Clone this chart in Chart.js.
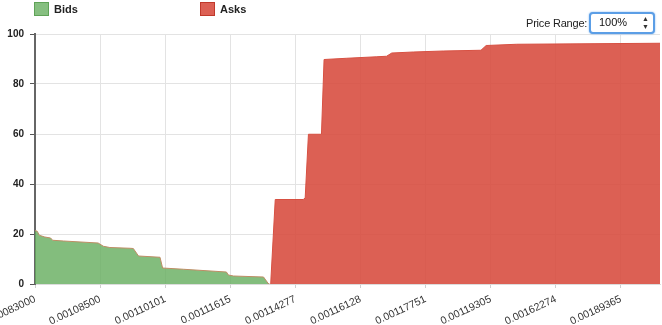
<!DOCTYPE html>
<html>
<head>
<meta charset="utf-8">
<script src="https://cdn.jsdelivr.net/npm/chart.js@4.4.1/dist/chart.umd.min.js"></script>
<style>
  body { margin: 0; background: #fff; font-family: "Liberation Sans", Arial, sans-serif; }
  #wrap { position: relative; width: 662px; height: 325px; overflow: hidden; }
  #chartBox { position: absolute; left: 0; top: 0; width: 662px; height: 325px; }
  .legend { position: absolute; top: 2px; font-size: 11px; font-weight: bold; color: #222; line-height: 14px; }
  .legend .box { display: inline-block; width: 13px; height: 12px; vertical-align: top; margin-right: 5px; }
  #bidsLeg { left: 34px; }
  #asksLeg { left: 200px; }
  #bidsLeg .box { background: #86bf80; border: 1px solid #5fa257; }
  #asksLeg .box { background: #dc6054; border: 1px solid #c0392b; }
  #range { position: absolute; top: 17px; left: 526px; font-size: 11px; color: #222; letter-spacing: -0.2px; }
  #sel { position: absolute; left: 589px; top: 12px; width: 62px; height: 18px; border: 2px solid #5b9ee6;
         border-radius: 4px; box-shadow: 0 0 2px #7db4f0; background: #fff; font-size: 11px; color: #111; }
  #sel span { position: absolute; left: 8px; top: 2px; }
  #sel i { position: absolute; right: 4px; top: 1px; font-style: normal; font-size: 7px; line-height: 8px; color: #333; }
</style>
</head>
<body>
<div id="wrap">
  <div id="chartBox"><canvas id="myChart"></canvas></div>
  <div class="legend" id="bidsLeg"><span class="box"></span>Bids</div>
  <div class="legend" id="asksLeg"><span class="box"></span>Asks</div>
  <div id="range">Price Range:</div>
  <div id="sel"><span>100%</span><i>&#9650;<br>&#9660;</i></div>
</div>
<script>
// price labels shown every 10 book levels
let priceTicks = ['0.00083000', '0.00108500', '0.00110101', '0.00111615', '0.00114277',
                  '0.00116128', '0.00117751', '0.00119305', '0.00162274', '0.00189365']

// cumulative depth, x = book level
let bidLevels = [0, 0.35, 0.66, 1.5, 2.4, 2.7, 4.4, 9.7, 10.5, 11.5, 14.6, 15.1, 15.9, 19.2, 19.6, 22.8, 29.4, 29.7, 30.5, 35.1, 35.8, 35.9]
let bidDepth  = [21.4, 21.1, 19.5, 18.8, 18.4, 17.5, 17.2, 16.4, 15.1, 14.6, 14.3, 14.2, 11.2, 10.7, 6.4, 5.9, 4.8, 3.6, 3.2, 2.8, 0.3, 0]

let askLevels = [36.2, 36.9, 41.2, 41.5, 42.0, 44.0, 44.4, 47.9, 52.5, 54.0, 54.8, 58.1, 62.7, 68.5, 69.3, 74.0, 96]
let askDepth  = [0, 33.8, 33.8, 34.4, 59.9, 59.9, 89.8, 90.3, 90.9, 91.1, 92.4, 92.8, 93.2, 93.5, 95.4, 95.9, 96.3]

let toPoints = (xs, ys) => xs.map((x, i) => ({ x: x, y: ys[i] }))

let drawChart = () => {
    let ctx = document.getElementById('myChart').getContext('2d')
    new Chart(ctx, {
        type: 'line',
        data: {
            datasets: [{
                label: 'Bids',
                data: toPoints(bidLevels, bidDepth),
                backgroundColor: 'rgba(100, 172, 92, 0.8)',
                borderColor: 'rgb(190, 140, 100)',
                borderWidth: 1,
                fill: 'origin',
                pointRadius: 0,
                tension: 0
            }, {
                label: 'Asks',
                data: toPoints(askLevels, askDepth),
                backgroundColor: 'rgba(215, 73, 60, 0.875)',
                borderColor: 'rgb(215, 80, 66)',
                borderWidth: 1,
                fill: 'origin',
                pointRadius: 0,
                tension: 0
            }]
        },
        options: {
            responsive: true,
            maintainAspectRatio: false,
            animation: false,
            layout: { padding: { top: 34, right: 2, left: 0, bottom: 0 } },
            plugins: { legend: { display: false }, tooltip: { enabled: false } },
            scales: {
                x: {
                    type: 'linear',
                    min: 0,
                    max: 96,
                    afterFit: (s) => { s.height = 41; s.paddingLeft = 0; s.paddingRight = 0 },
                    grid: { color: '#e3e3e3', tickColor: '#cfcfcf', tickLength: 4 },
                    border: { color: '#dcdcdc' },
                    ticks: {
                        stepSize: 10,
                        includeBounds: false,
                        autoSkip: false,
                        minRotation: 25,
                        maxRotation: 25,
                        padding: 5,
                        color: '#333',
                        font: { family: 'Liberation Sans', size: 10.5 },
                        callback: (v) => priceTicks[Math.round(v / 10)]
                    }
                },
                y: {
                    min: 0,
                    max: 100,
                    afterFit: (s) => { s.width = 35; s.paddingTop = 0; s.paddingBottom = 0 },
                    grid: { color: '#e3e3e3', tickColor: '#555', tickLength: 5 },
                    border: { color: '#666', width: 2 },
                    ticks: {
                        stepSize: 20,
                        padding: 6,
                        color: '#222',
                        font: { family: 'Liberation Sans', size: 10, weight: 'bold' }
                    }
                }
            }
        }
    })
}

drawChart()
</script>
</body>
</html>
